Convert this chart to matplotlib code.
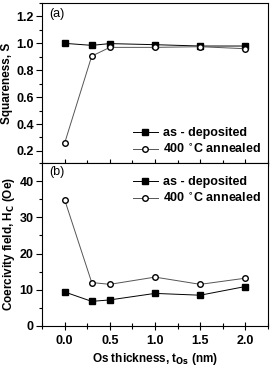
import numpy as np
from matplotlib import pyplot as plt
from matplotlib.ticker import MultipleLocator

plt.rcParams['font.family'] = ['Liberation Sans', 'DejaVu Sans']

thickness = [0.0, 0.3, 0.5, 1.0, 1.5, 2.0]

sq_dep = [1.0, 0.985, 0.998, 0.99, 0.98, 0.98]
sq_ann = [0.257, 0.905, 0.97, 0.97, 0.975, 0.96]

hc_dep = [9.4, 6.8, 7.2, 9.0, 8.5, 10.9]
hc_ann = [34.9, 12.0, 11.5, 13.5, 11.5, 13.2]

fig = plt.figure(figsize=(2.72, 3.69), dpi=100)
ax1 = fig.add_axes([42/272, 1 - 163/369, 226/272, 160/369])
ax2 = fig.add_axes([42/272, 1 - 326/369, 226/272, 163/369])

def draw(ax, y1, y2):
    ax.plot(thickness, y1, '-s', color='black', lw=0.7, ms=4,
            mfc='black', mec='black', label='as - deposited')
    ax.plot(thickness, y2, '-o', color='#555555', lw=0.7, ms=4,
            mfc='white', mec='black', label='400 $^{\\circ}$C annealed')
    ax.set_xlim(-0.25, 2.25)
    ax.xaxis.set_major_locator(MultipleLocator(0.5))
    ax.xaxis.set_minor_locator(MultipleLocator(0.25))
    ax.tick_params(axis='x', which='major', direction='inout', length=6, width=0.8)
    ax.tick_params(axis='x', which='minor', direction='inout', length=4, width=0.8)
    ax.tick_params(axis='y', which='major', direction='out', length=4, width=0.8, pad=2)
    ax.tick_params(axis='y', which='minor', direction='out', length=2, width=0.8)
    ax.tick_params(labelsize=9)
    for s in ax.spines.values():
        s.set_linewidth(0.8)

draw(ax1, sq_dep, sq_ann)
ax1.set_ylim(0.11, 1.3)
ax1.yaxis.set_major_locator(MultipleLocator(0.2))
ax1.yaxis.set_minor_locator(MultipleLocator(0.1))
ax1.tick_params(axis='x', labelbottom=False)
ax1.set_ylabel('Squareness, S', fontsize=8.5, fontweight='bold', labelpad=2)
ax1.text(0.03, 0.97, '(a)', transform=ax1.transAxes, fontsize=9, va='top')
ax1.legend(loc='lower right', frameon=False, handlelength=2.0, handletextpad=0.4,
           prop={'weight': 'bold', 'size': 9}, borderaxespad=0.15, labelspacing=0.3)

draw(ax2, hc_dep, hc_ann)
ax2.set_ylim(0, 45)
ax2.yaxis.set_major_locator(MultipleLocator(10))
ax2.yaxis.set_minor_locator(MultipleLocator(5))
ax2.set_ylabel('Coercivity field, H$_\\mathbf{C}$ (Oe)', fontsize=8.5, fontweight='bold', labelpad=2)
ax2.set_xlabel('Os thickness, t$_\\mathbf{Os}$ (nm)', fontsize=8.5, fontweight='bold', labelpad=3)
ax2.text(0.03, 0.98, '(b)', transform=ax2.transAxes, fontsize=9, va='top')
ax2.legend(loc='upper right', frameon=False, handlelength=2.0, handletextpad=0.4,
           bbox_to_anchor=(1.0, 0.96),
           prop={'weight': 'bold', 'size': 9}, borderaxespad=0.15, labelspacing=0.3)

for lab in ax2.get_xticklabels() + ax2.get_yticklabels() + ax1.get_yticklabels():
    lab.set_fontweight('bold')

fig.savefig('out.png', dpi=100)
